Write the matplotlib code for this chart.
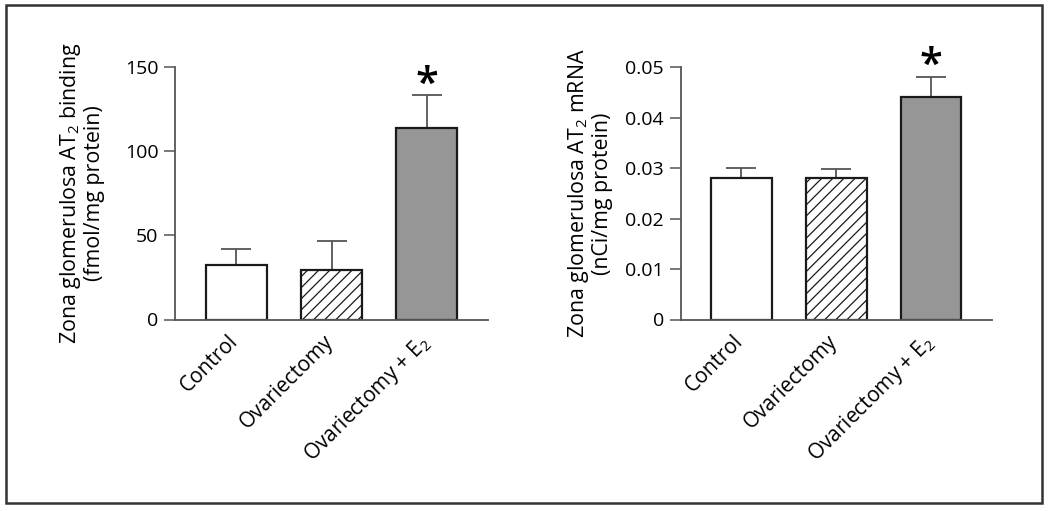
import matplotlib
matplotlib.use("Agg")
import matplotlib.pyplot as plt
from matplotlib.patches import Rectangle
from matplotlib.ticker import FuncFormatter

plt.rcParams['font.family'] = ['Open Sans', 'DejaVu Sans']
plt.rcParams['mathtext.fontset'] = 'custom'
plt.rcParams['mathtext.rm'] = 'Open Sans'
plt.rcParams['mathtext.it'] = 'Open Sans'
plt.rcParams['hatch.linewidth'] = 0.9
plt.rcParams['hatch.color'] = '#555555'

categories = ['Control', 'Ovariectomy', r'Ovariectomy + E$\mathregular{_2}$']
binding_mean = [32.5, 29.7, 113.5]
binding_sem = [9.3, 17.0, 19.6]
mrna_mean = [0.0281, 0.0280, 0.0441]
mrna_sem = [0.0020, 0.0019, 0.0040]
significant = [False, False, True]

binding_ticks = [0, 50, 100, 150]
mrna_ticks = [0, 0.01, 0.02, 0.03, 0.04, 0.05]

fills = ['white', 'white', '#969696']
hatches = [None, '///', None]

W, H = 1050, 511
fig = plt.figure(figsize=(W / 100, H / 100), dpi=100)

# outer frame
fig.patches.append(Rectangle((6 / W, 1 - 503 / H), (1042 - 6) / W, (503 - 5) / H,
                             transform=fig.transFigure, fill=False,
                             edgecolor='#333333', linewidth=1.8))

axL = fig.add_axes([175 / W, 1 - 319.5 / H, 313 / W, (319.5 - 67) / H])
axR = fig.add_axes([680.7 / W, 1 - 319.5 / H, 311 / W, (319.5 - 67.3) / H])


def draw(ax, means, sems, ticks, ylabel, fmt, labx):
    x = list(range(len(means)))
    for i in x:
        ax.bar(i, means[i], width=0.64, color=fills[i], edgecolor='#1a1a1a',
               linewidth=1.6, hatch=hatches[i], zorder=2)
    ax.errorbar(x, means, yerr=[[0] * len(means), sems], fmt='none',
                ecolor='#555555', elinewidth=1.3, capsize=10.5, capthick=1.3,
                zorder=1)
    for i in x:
        if significant[i]:
            ax.annotate('*', (i, means[i] + sems[i]), xytext=(0, -1),
                        textcoords='offset points', ha='center', va='baseline',
                        fontsize=30, fontweight='semibold',
                        clip_on=False, annotation_clip=False)
    ax.set_xlim(-0.64, 2.64)
    ax.set_ylim(ticks[0], ticks[-1])
    ax.set_yticks(ticks)
    ax.yaxis.set_major_formatter(FuncFormatter(fmt))
    ax.set_xticks(x)
    ax.set_xticklabels([])
    for i, name in zip(x, categories):
        ax.annotate(name, (i, 0), xycoords=ax.get_xaxis_transform(),
                    xytext=(-6.5, -8), textcoords='offset points',
                    rotation=45, ha='right', va='top', rotation_mode='anchor',
                    fontsize=15, annotation_clip=False)
    ax.tick_params(axis='x', length=0)
    ax.tick_params(axis='y', length=8, width=1.1, color='#555555',
                   labelsize=14, pad=4, direction='out')
    for s in ['top', 'right']:
        ax.spines[s].set_visible(False)
    for s in ['left', 'bottom']:
        ax.spines[s].set_color('#555555')
        ax.spines[s].set_linewidth(1.3)
    ax.set_ylabel(ylabel, fontsize=15.4, linespacing=1.05, ha='center',
                  va='center')
    ax.yaxis.set_label_coords(labx, 0.5)


draw(axL, binding_mean, binding_sem, binding_ticks,
     'Zona glomerulosa AT$\\mathregular{_2}$ binding\n(fmol/mg protein)',
     lambda v, p: f'{v:g}', -0.30)
draw(axR, mrna_mean, mrna_sem, mrna_ticks,
     'Zona glomerulosa AT$\\mathregular{_2}$ mRNA\n(nCi/mg protein)',
     lambda v, p: '0' if v == 0 else f'{v:.2f}', -0.293)

fig.savefig('out.png', dpi=100)
